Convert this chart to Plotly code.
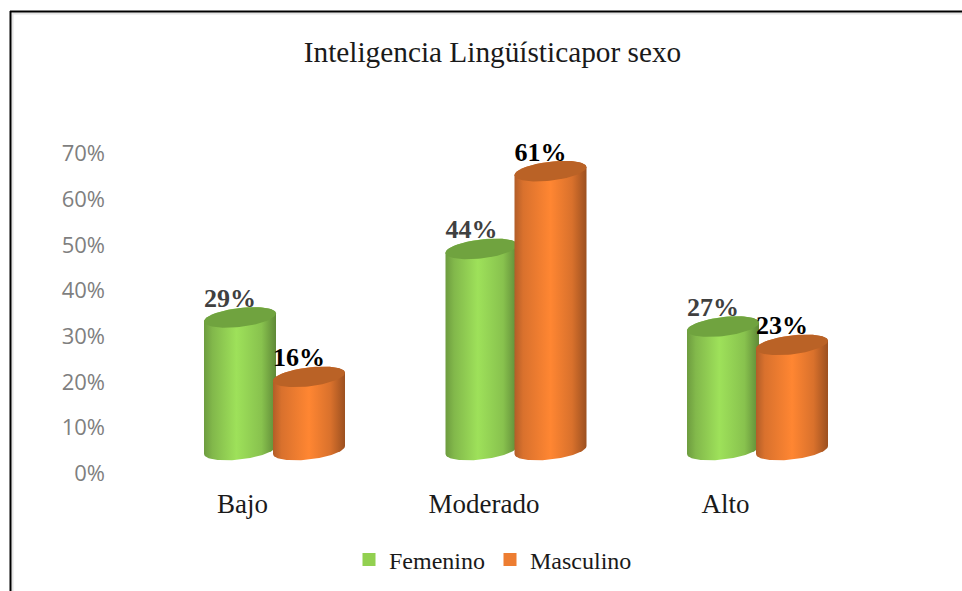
import numpy as np
import plotly.graph_objects as go

categories = ["Bajo", "Moderado", "Alto"]
femenino = [29, 44, 27]
masculino = [16, 61, 23]
y_ticks = [0, 10, 20, 30, 40, 50, 60, 70]
y_tick_labels = ["0%", "10%", "20%", "30%", "40%", "50%", "60%", "70%"]
title = "Inteligencia Lingüísticapor sexo"

W, H = 962, 591
ML, MB = 110, 108
PX_PER_CAT = 241.5
PX_PER_PCT = 4.571
ZERO_PX = 473.5
FIRST_GROUP_PX = 274.5
x0 = (ML - FIRST_GROUP_PX) / PX_PER_CAT
x1 = (W - FIRST_GROUP_PX) / PX_PER_CAT
y0 = (ZERO_PX - (H - MB)) / PX_PER_PCT
y1 = ZERO_PX / PX_PER_PCT

DEPTH = 23.5 / PX_PER_PCT        # floor of the 3D chart above the axis zero
A = 36 / PX_PER_CAT              # cylinder half width
B = 9.5 / PX_PER_PCT             # ellipse half height
TILT = 4.0 / PX_PER_PCT          # ellipse rise, left to right
OFFSET = 34.5 / PX_PER_CAT       # bar centre offset from group centre

GREEN = [[0, "#6d9c3f"], [0.12, "#82b84b"], [0.45, "#9ee15a"], [0.8, "#88c24e"], [1, "#5f8937"]]
ORANGE = [[0, "#b25d28"], [0.12, "#d9712d"], [0.5, "#ff8632"], [0.8, "#d9712c"], [1, "#9c5020"]]
GREEN_TOP = "#70a33f"
ORANGE_TOP = "#ba6226"


def cylinder(cx, value, scale, top):
    t = np.linspace(0, np.pi, 50)
    ytop = value + DEPTH
    bx = cx - A * np.cos(t)
    by = DEPTH - B * np.sin(t) - TILT * np.cos(t)
    tx = cx + A * np.cos(t)
    ty = ytop + B * np.sin(t) + TILT * np.cos(t)
    body = go.Scatter(
        x=np.r_[bx, tx], y=np.r_[by, ty], mode="lines", line=dict(width=0),
        fill="toself", fillgradient=dict(type="horizontal", colorscale=scale),
        hoverinfo="skip", showlegend=False)
    t2 = np.linspace(0, 2 * np.pi, 80)
    cap = go.Scatter(
        x=cx + A * np.cos(t2), y=ytop + B * np.sin(t2) + TILT * np.cos(t2),
        mode="lines", line=dict(width=0), fill="toself", fillcolor=top,
        hoverinfo="skip", showlegend=False)
    return [body, cap]


fig = go.Figure()
for i in range(len(categories)):
    for tr in cylinder(i - OFFSET, femenino[i], GREEN, GREEN_TOP):
        fig.add_trace(tr)
    for tr in cylinder(i + OFFSET, masculino[i], ORANGE, ORANGE_TOP):
        fig.add_trace(tr)

LBL_DX = -10 / PX_PER_CAT
LBL_DY = 17 / PX_PER_PCT
xs = np.arange(len(categories))
fig.add_trace(go.Scatter(
    x=xs - OFFSET + LBL_DX, y=np.array(femenino) + DEPTH + LBL_DY, mode="text",
    text=[f"{v}%" for v in femenino], textposition="middle center",
    textfont=dict(family="Liberation Serif", size=26, color="#404040", weight="bold"),
    hoverinfo="skip", showlegend=False))
fig.add_trace(go.Scatter(
    x=xs + OFFSET + LBL_DX, y=np.array(masculino) + DEPTH + LBL_DY, mode="text",
    text=[f"{v}%" for v in masculino], textposition="middle center",
    textfont=dict(family="Liberation Serif", size=26, color="#000000", weight="bold"),
    hoverinfo="skip", showlegend=False))

for name, col in (("Femenino", "#92d050"), ("Masculino", "#ed7d31")):
    fig.add_trace(go.Scatter(x=[None], y=[None], mode="markers", name=name,
                             marker=dict(symbol="square", size=13, color=col)))

px = lambda p: (p - ML) / (W - ML)
py = lambda p: 1 - p / (H - MB)

fig.update_layout(
    width=W, height=H, autosize=False,
    margin=dict(l=ML, r=0, t=0, b=MB, autoexpand=False),
    paper_bgcolor="white", plot_bgcolor="white",
    title=dict(text=title, x=492.5 / W, xanchor="center", y=1 - 52 / H, yanchor="middle",
               font=dict(family="Liberation Serif", size=29.3, color="#1a1a1a")),
    xaxis=dict(range=[x0, x1], tickmode="array", tickvals=xs - 32 / PX_PER_CAT,
               ticktext=categories, showgrid=False, zeroline=False, showline=False,
               ticks="", ticklabelstandoff=2,
               tickfont=dict(family="Liberation Serif", size=27, color="#1a1a1a")),
    yaxis=dict(range=[y0, y1], tickmode="array", tickvals=y_ticks, ticktext=y_tick_labels,
               showgrid=False, zeroline=False, showline=False, ticks="", ticklabelstandoff=4,
               tickfont=dict(family="Open Sans", size=22, color="#7f7f7f")),
    legend=dict(orientation="h", x=px(493), xanchor="center", y=py(560), yanchor="middle",
                font=dict(family="Liberation Serif", size=24, color="#1a1a1a"),
                bgcolor="rgba(0,0,0,0)"),
    shapes=[
        dict(type="line", xref="paper", yref="paper", x0=px(12.5), x1=1, y0=py(13.5), y1=py(13.5),
             line=dict(color="#e4e4e4", width=2)),
        dict(type="line", xref="paper", yref="paper", x0=px(12.5), x1=px(12.5), y0=py(13), y1=py(H),
             line=dict(color="#e4e4e4", width=2)),
        dict(type="line", xref="paper", yref="paper", x0=px(10), x1=1, y0=py(11.5), y1=py(11.5),
             line=dict(color="#000000", width=2)),
        dict(type="line", xref="paper", yref="paper", x0=px(10.5), x1=px(10.5), y0=py(11), y1=py(H),
             line=dict(color="#000000", width=2)),
    ],
)

fig.write_html("out.html", config=dict(displayModeBar=False),
               post_script="document.body.style.margin='0';document.body.style.overflow='hidden';")
